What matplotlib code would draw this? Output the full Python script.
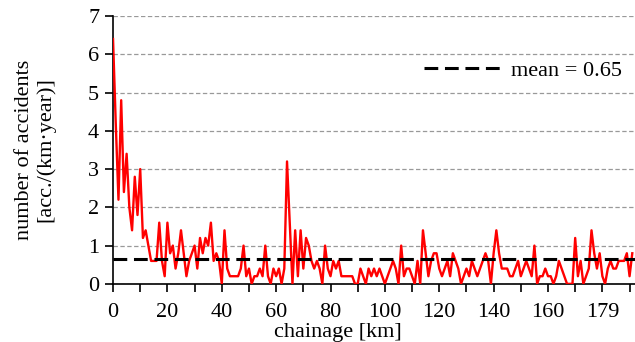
import matplotlib
matplotlib.use("Agg")
import matplotlib.pyplot as plt
import numpy as np

plt.rcParams["font.family"] = ["Liberation Serif", "DejaVu Serif"]

# chainage in km, one value per km
chainage = np.arange(0, 192)
accidents = [
    6.4, 4.2, 2.2, 4.8, 2.4, 3.4, 2.0, 1.4, 2.8, 1.8,   # 0-9
    3.0, 1.2, 1.4, 1.0, 0.6, 0.6, 0.6, 1.6, 0.6, 0.2,   # 10-19
    1.6, 0.8, 1.0, 0.4, 0.8, 1.4, 0.8, 0.2, 0.6, 0.8,   # 20-29
    1.0, 0.4, 1.2, 0.8, 1.2, 1.0, 1.6, 0.6, 0.8, 0.6,   # 30-39
    0.0, 1.4, 0.4, 0.2, 0.2, 0.2, 0.2, 0.4, 1.0, 0.2,   # 40-49
    0.4, 0.0, 0.2, 0.2, 0.4, 0.2, 1.0, 0.2, 0.0, 0.4,   # 50-59
    0.2, 0.4, 0.0, 0.4, 3.2, 1.6, 0.0, 1.4, 0.2, 1.4,   # 60-69
    0.4, 1.2, 1.0, 0.6, 0.4, 0.6, 0.4, 0.0, 1.0, 0.4,   # 70-79
    0.2, 0.6, 0.4, 0.6, 0.2, 0.2, 0.2, 0.2, 0.2, 0.0,   # 80-89
    0.0, 0.4, 0.2, 0.0, 0.4, 0.2, 0.4, 0.2, 0.4, 0.2,   # 90-99
    0.0, 0.2, 0.4, 0.6, 0.4, 0.0, 1.0, 0.2, 0.4, 0.4,   # 100-109
    0.2, 0.0, 0.6, 0.0, 1.4, 0.8, 0.2, 0.6, 0.8, 0.8,   # 110-119
    0.4, 0.2, 0.4, 0.6, 0.2, 0.8, 0.6, 0.4, 0.0, 0.2,   # 120-129
    0.4, 0.2, 0.6, 0.4, 0.2, 0.4, 0.6, 0.8, 0.6, 0.0,   # 130-139
    0.8, 1.4, 0.8, 0.4, 0.4, 0.4, 0.2, 0.2, 0.4, 0.6,   # 140-149
    0.2, 0.4, 0.6, 0.4, 0.2, 1.0, 0.0, 0.2, 0.2, 0.4,   # 150-159
    0.2, 0.2, 0.0, 0.2, 0.6, 0.4, 0.2, 0.0, 0.0, 0.0,   # 160-169
    1.2, 0.2, 0.6, 0.0, 0.2, 0.4, 1.4, 0.8, 0.4, 0.8,   # 170-179
    0.2, 0.0, 0.4, 0.6, 0.4, 0.4, 0.6, 0.6, 0.6, 0.8,   # 180-189
    0.2, 0.8,                                           # 190-191
]
mean_value = 0.65

x_ticks = np.arange(0, 191, 10)
x_label_pos = [0, 20, 40, 60, 80, 100, 120, 140, 160, 180]
x_label_txt = ["0", "20", "40", "60", "80", "100", "120", "140", "160", "179"]

fig = plt.figure(figsize=(6.35, 3.42), dpi=100)
ax = fig.add_axes([0.178, 0.170, 0.822, 0.783])

ax.plot(chainage, accidents, color="red", lw=1.7, zorder=3)
ax.axhline(mean_value, color="black", lw=2.2, dashes=(4.5, 2.2), zorder=4,
           label=f"mean = {mean_value}")

ax.set_xlim(0, 192)
ax.set_ylim(0, 7)
ax.set_yticks(range(0, 8))
ax.grid(axis="y", color="#999999", ls=(0, (3.5, 2)), lw=0.9)
ax.set_axisbelow(True)

# ticks every 10 km, labels every 20 km
ax.set_xticks(x_ticks)
ax.set_xticklabels([x_label_txt[x_label_pos.index(t)] if t in x_label_pos else ""
                    for t in x_ticks])

for s in ["top", "right"]:
    ax.spines[s].set_visible(False)
ax.spines["left"].set_linewidth(1.2)
ax.spines["bottom"].set_linewidth(1.2)
ax.tick_params(axis="both", direction="out", length=6, width=1.2,
               labelsize=16, pad=4)
ax.tick_params(axis="x", pad=8)

ax.set_ylabel("number of accidents\n[acc./(km·year)]", fontsize=16, linespacing=1.1)
ax.yaxis.set_label_coords(-0.11, 0.5)
ax.set_xlabel("chainage [km]", fontsize=16)
ax.xaxis.set_label_coords(0.43, -0.145)

ax.legend(loc="upper right", bbox_to_anchor=(1.0, 0.885), frameon=False,
          fontsize=16, handlelength=3.4, handletextpad=0.5, borderaxespad=0.2)

fig.savefig("out.png", dpi=100)
